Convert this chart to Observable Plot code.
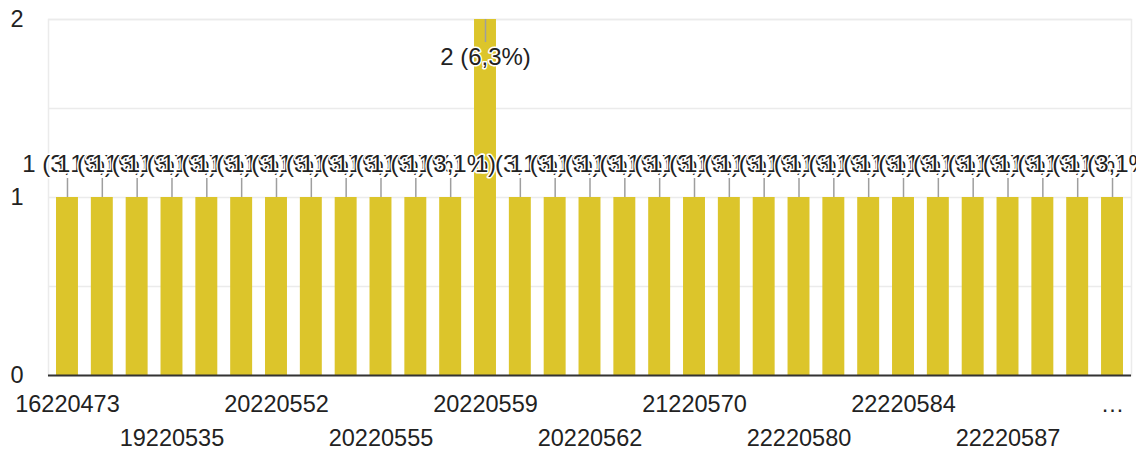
<!DOCTYPE html>
<html>
<head>
<meta charset="utf-8">
<script src="https://cdn.jsdelivr.net/npm/d3@7"></script>
<script src="https://cdn.jsdelivr.net/npm/@observablehq/plot@0.6"></script>
<style>
  html, body { margin: 0; padding: 0; background: #fff; }
  #chart { width: 1136px; height: 450px; }
  svg { font-family: "Liberation Sans", Arial, sans-serif; }
</style>
</head>
<body>
<div id="chart"></div>
<script>
// Tick labels shown under the bars (null = no label drawn for that bar)
const tickLabels = [
  "16220473", null, null, "19220535", null, null, "20220552", null, null,
  "20220555", null, null, "20220559", null, null, "20220562", null, null,
  "21220570", null, null, "22220580", null, null, "22220584", null, null,
  "22220587", null, null, "…"
];
// Number of responses per bar
const counts = [
  1, 1, 1, 1, 1, 1, 1, 1, 1, 1, 1, 1, 2, 1, 1, 1,
  1, 1, 1, 1, 1, 1, 1, 1, 1, 1, 1, 1, 1, 1, 1
];
const yTicks = [0, 1, 2];
const gridTicks = [0.5, 1, 1.5, 2];

const total = d3.sum(counts);
const maxCount = d3.max(counts);
const fmtPct = (c) => (Math.round(c / total * 1000) / 10).toFixed(1).replace(".", ",") + "%";
const bars = counts.map((c, i) => ({i, count: c, label: `${c} (${fmtPct(c)})`}));
const belowBars = bars.filter(d => d.count < maxCount);
const topBars = bars.filter(d => d.count === maxCount);
const labelled = bars.filter(d => tickLabels[d.i] !== null).map(d => d.i);
const row1 = labelled.filter((_, k) => k % 2 === 0);
const row2 = labelled.filter((_, k) => k % 2 === 1);

const textColor = "#222222";
const barColor = "#DCC52B";
const stemColor = "#9e9e9e";

const chart = Plot.plot({
  width: 1136,
  height: 450,
  marginLeft: 48,
  marginRight: 5,
  marginTop: 19,
  marginBottom: 75,
  style: {fontFamily: "'Liberation Sans', Arial, sans-serif", background: "#fff"},
  x: {type: "band", domain: d3.range(counts.length), paddingInner: 0.37, paddingOuter: 0.23, round: false},
  y: {domain: [0, 2]},
  marks: [
    Plot.frame({stroke: "#ebebeb", strokeWidth: 1.5}),
    Plot.gridY(gridTicks, {stroke: "#ebebeb", strokeOpacity: 1, strokeWidth: 1.5}),
    Plot.barY(bars, {x: "i", y: "count", fill: barColor}),
    Plot.ruleY([0], {stroke: "#333333", strokeWidth: 2}),
    Plot.axisY(yTicks, {tickSize: 0, tickPadding: 25, fontSize: 23.5, fill: textColor, label: null,
      tickFormat: d3.format("d")}),
    Plot.axisX(row1, {tickSize: 0, tickPadding: 20, fontSize: 23.5, fill: textColor, label: null,
      tickFormat: (i) => tickLabels[i]}),
    Plot.axisX(row2, {tickSize: 0, tickPadding: 54, fontSize: 23.5, fill: textColor, label: null,
      tickFormat: (i) => tickLabels[i]}),
    // stems
    Plot.ruleX(belowBars, {x: "i", y1: "count", y2: "count", insetTop: -19, stroke: stemColor, strokeWidth: 1.5}),
    Plot.ruleX(topBars, {x: "i", y1: "count", y2: "count", insetBottom: -23, stroke: stemColor, strokeWidth: 1.5}),
    // annotations
    Plot.text(belowBars, {x: "i", y: "count", text: "label", lineAnchor: "bottom", dy: -26,
      fontSize: 24, fill: textColor, stroke: "white", strokeWidth: 3, paintOrder: "stroke"}),
    Plot.text(topBars, {x: "i", y: "count", text: "label", lineAnchor: "bottom", dy: 45,
      fontSize: 24, fill: textColor, stroke: "white", strokeWidth: 3, paintOrder: "stroke"})
  ]
});
document.getElementById("chart").appendChild(chart);
</script>
</body>
</html>
